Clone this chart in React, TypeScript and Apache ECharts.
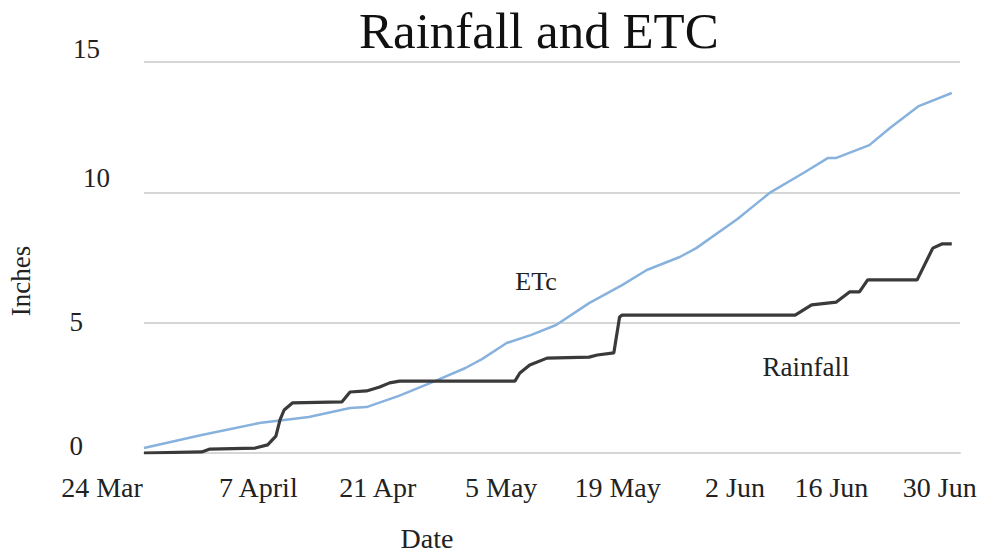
import React, { useEffect, useRef } from "react";
import * as echarts from "echarts";

// Day offsets counted from 24 Mar
const tickLabels = ["24 Mar", "7 April", "21 Apr", "5 May", "19 May", "2 Jun", "16 Jun", "30 Jun"];
const tickShift = [-84, -2, 6, 22, 24, 28, -10, -24];

const etcDays = [0, 7, 14, 20, 25, 27, 31, 35, 39, 41, 44, 47, 50, 54, 58, 61, 65, 67, 72, 76, 80, 83, 84, 88, 90.5, 94, 98];
const etcValues = [0.19, 0.69, 1.15, 1.38, 1.73, 1.76, 2.2, 2.72, 3.26, 3.6, 4.22, 4.53, 4.91, 5.75, 6.44, 7.02, 7.52, 7.86, 8.98, 10.0, 10.74, 11.32, 11.32, 11.81, 12.47, 13.31, 13.81];

const rainDays = [0, 7, 8, 13.5, 15, 16, 16.5, 17, 18, 24, 25, 27, 28.6, 29.8, 31, 45, 45.6, 46.8, 48.9, 54, 55, 57, 57.7, 58, 79, 81, 84, 85.6, 86.8, 87.8, 93.8, 95.7, 96.8, 98];
const rainValues = [0, 0.04, 0.15, 0.19, 0.31, 0.65, 1.27, 1.65, 1.92, 1.96, 2.34, 2.38, 2.53, 2.69, 2.76, 2.76, 3.07, 3.38, 3.64, 3.68, 3.76, 3.84, 5.22, 5.29, 5.29, 5.68, 5.79, 6.18, 6.18, 6.64, 6.64, 7.86, 8.02, 8.02];

const FONT = "Liberation Serif, Times New Roman, serif";

export default function App() {
  const ref = useRef<HTMLDivElement>(null);
  useEffect(() => {
    if (!ref.current) return;
    const chart = echarts.init(ref.current, undefined, { renderer: "svg" });

    const xRich: Record<string, any> = {};
    tickLabels.forEach((_, i) => {
      const s = tickShift[i];
      xRich["t" + i] = {
        fontSize: 28,
        fontFamily: FONT,
        color: "#222",
        padding: s >= 0 ? [0, 0, 0, s] : [0, -s, 0, 0],
      };
    });

    const yRich: Record<string, any> = {
      y15: { fontSize: 27, fontFamily: FONT, color: "#222", padding: [0, 36, 26, 0] },
      y10: { fontSize: 27, fontFamily: FONT, color: "#222", padding: [0, 26, 28, 0] },
      y5: { fontSize: 27, fontFamily: FONT, color: "#222", padding: [0, 53, 2, 0] },
      y0: { fontSize: 27, fontFamily: FONT, color: "#222", padding: [0, 53, 14, 0] },
    };

    chart.setOption({
      animation: false,
      backgroundColor: "#ffffff",
      title: {
        text: "Rainfall and ETC",
        left: 354,
        top: 0,
        textStyle: { fontFamily: FONT, fontSize: 51, fontWeight: "normal", color: "#111" },
      },
      grid: { left: 144, right: 25, top: 62, bottom: 101, containLabel: false },
      xAxis: {
        type: "value",
        min: 0,
        max: 99,
        interval: 14,
        axisLine: { show: true, lineStyle: { color: "#d6d6d6", width: 2 } },
        axisTick: { show: false },
        splitLine: { show: false },
        axisLabel: {
          margin: 20,
          showMaxLabel: false,
          formatter: (v: number) => {
            const i = Math.round(v / 14);
            if (Math.abs(v - i * 14) > 0.01 || i >= tickLabels.length) return "";
            return `{t${i}|${tickLabels[i]}}`;
          },
          rich: xRich,
        },
      },
      yAxis: {
        type: "value",
        min: 0,
        max: 15,
        interval: 5,
        axisLine: { show: false },
        axisTick: { show: false },
        splitLine: { lineStyle: { color: "#d6d6d6", width: 2 } },
        axisLabel: {
          margin: 8,
          formatter: (v: number) => `{y${v}|${v}}`,
          rich: yRich,
        },
      },
      series: [
        {
          name: "ETc",
          type: "line",
          data: etcDays.map((d, i) => [d, etcValues[i]]),
          showSymbol: false,
          lineStyle: { color: "#88b2de", width: 2.5 },
        },
        {
          name: "Rainfall",
          type: "line",
          data: rainDays.map((d, i) => [d, rainValues[i]]),
          showSymbol: false,
          lineStyle: { color: "#3a3a3a", width: 3.2 },
        },
      ],
      graphic: [
        {
          type: "text",
          x: 536,
          y: 281,
          style: { text: "ETc", font: `26px ${FONT}`, fill: "#222", align: "center", verticalAlign: "middle" },
        },
        {
          type: "text",
          x: 806,
          y: 367,
          style: { text: "Rainfall", font: `27px ${FONT}`, fill: "#222", align: "center", verticalAlign: "middle" },
        },
        {
          type: "text",
          x: 427,
          y: 538,
          style: { text: "Date", font: `28px ${FONT}`, fill: "#222", align: "center", verticalAlign: "middle" },
        },
        {
          type: "text",
          x: 21,
          y: 281,
          rotation: Math.PI / 2,
          style: { text: "Inches", font: `27px ${FONT}`, fill: "#222", align: "center", verticalAlign: "middle" },
        },
      ],
    });
    return () => chart.dispose();
  }, []);
  return (
    <div
      ref={ref}
      style={{ position: "fixed", left: 0, top: 0, width: 985, height: 554, background: "#fff" }}
    />
  );
}
